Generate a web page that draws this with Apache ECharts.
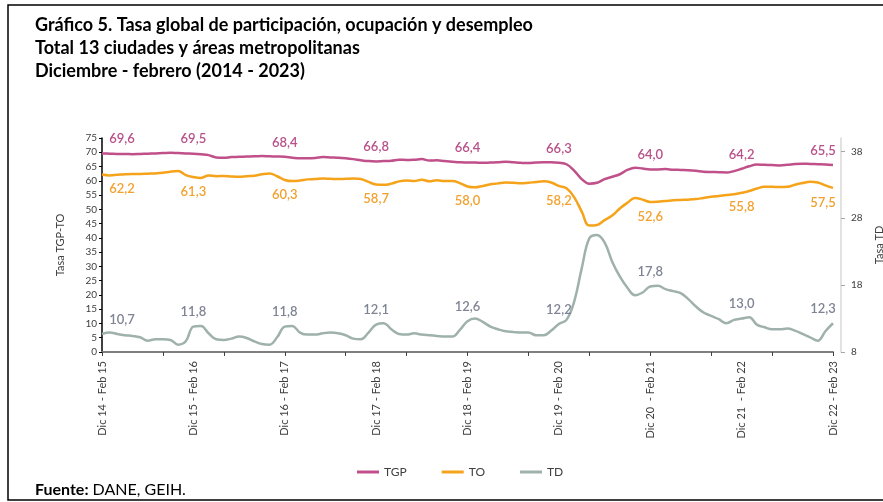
<!DOCTYPE html>
<html lang="es">
<head>
  <meta charset="utf-8">
  <title>Gráfico 5</title>
  <script src="https://cdn.jsdelivr.net/npm/echarts@6/dist/echarts.min.js"></script>
  <style>
    html, body { margin: 0; padding: 0; background: #fff; }
    #chart-box { width: 883px; height: 502px; }
  </style>
</head>
<body>
  <div id="chart-box"></div>
  <script type="text/javascript">
    // trimestres moviles dic14-feb15 ... dic22-feb23
    var meses = ['Ene', 'Feb', 'Mar', 'Abr', 'May', 'Jun', 'Jul', 'Ago', 'Sep', 'Oct', 'Nov', 'Dic'];
    var categorias = [];
    for (var k = 0; k < 97; k++) {
      var m0 = (11 + k) % 12, y0 = 14 + Math.floor((11 + k) / 12);
      var m2 = (13 + k) % 12, y2 = 14 + Math.floor((13 + k) / 12);
      var sep = (y0 === 20 || y0 === 21) && m0 === 11 ? '  - ' : ' - ';
      categorias.push(meses[m0] + ' ' + y0 + sep + meses[m2] + ' ' + y2);
    }

    var tgp = [
      69.6, 69.5, 69.4, 69.4, 69.3, 69.4, 69.5, 69.6, 69.7, 69.8, 69.7, 69.6, 69.5,
      69.3, 69.0, 68.2, 68.1, 68.3, 68.4, 68.5, 68.6, 68.7, 68.6, 68.5, 68.4,
      68.1, 67.9, 67.9, 68.0, 68.3, 68.2, 68.1, 67.9, 67.6, 67.2, 66.9, 66.8,
      66.9, 67.0, 67.4, 67.3, 67.4, 67.6, 67.1, 67.2, 66.9, 66.7, 66.5, 66.4,
      66.4, 66.3, 66.4, 66.5, 66.7, 66.5, 66.3, 66.2, 66.4, 66.5, 66.5, 66.3,
      65.8, 63.6, 60.6, 59.0, 59.3, 60.6, 61.4, 62.3, 63.8, 64.6, 64.3, 64.0,
      64.0, 64.1, 63.9, 63.8, 63.7, 63.5, 63.2, 63.1, 63.0, 62.9, 63.4, 64.2,
      65.1, 65.7, 65.6, 65.5, 65.4, 65.6, 65.9, 66.0, 65.9, 65.8, 65.7, 65.5
    ];
    var to = [
      62.2, 61.9, 62.1, 62.3, 62.4, 62.4, 62.5, 62.6, 62.8, 63.2, 63.4, 62.0, 61.3,
      61.0, 61.9, 61.6, 61.7, 61.5, 61.4, 61.6, 61.8, 62.3, 62.6, 61.6, 60.3,
      59.9, 60.1, 60.5, 60.6, 60.8, 60.7, 60.6, 60.7, 60.8, 60.6, 59.6, 58.7,
      58.6, 59.0, 59.8, 60.1, 59.9, 60.4, 59.8, 60.2, 59.9, 59.9, 59.2, 58.0,
      57.7, 58.2, 58.8, 59.1, 59.4, 59.3, 59.1, 59.3, 59.6, 59.8, 59.4, 58.2,
      57.4, 54.3, 49.2, 44.3, 44.5, 46.2, 47.8, 50.3, 52.3, 54.0, 53.4, 52.6,
      52.7, 52.9, 53.2, 53.3, 53.4, 53.6, 54.0, 54.4, 54.7, 55.0, 55.3, 55.8,
      56.4, 57.3, 57.9, 57.9, 57.8, 57.9, 58.6, 59.2, 59.7, 59.4, 58.4, 57.5
    ];
    var td = [
      10.7, 10.9, 10.7, 10.5, 10.4, 10.2, 9.7, 9.9, 9.9, 9.8, 9.1, 9.6, 11.8,
      11.9, 10.8, 9.9, 9.8, 10.0, 10.3, 10.1, 9.6, 9.2, 9.1, 10.2, 11.8,
      11.9, 10.9, 10.6, 10.6, 10.8, 10.9, 10.8, 10.5, 10.0, 9.9, 10.9, 12.1,
      12.3, 11.4, 10.7, 10.6, 10.8, 10.6, 10.5, 10.4, 10.3, 10.3, 11.3, 12.6,
      13.0, 12.5, 11.8, 11.4, 11.1, 11.0, 10.9, 10.9, 10.5, 10.5, 11.2, 12.2,
      12.8, 15.5, 20.5, 25.0, 25.5, 24.4, 21.5, 19.3, 17.6, 16.5, 16.9, 17.8,
      17.9, 17.4, 17.1, 16.8, 15.9, 14.8, 13.9, 13.4, 12.9, 12.3, 12.8, 13.0,
      13.2, 12.1, 11.7, 11.4, 11.4, 11.5, 11.2, 10.7, 10.2, 9.7, 11.1, 12.3
    ];
    var ticksTD = [8, 18, 28, 38];

    var fuente = 'Lato, "Noto Sans", sans-serif';

    // solo se rotula cada diciembre-febrero
    function rotular(lista) {
      return lista.map(function (v, i) {
        if (i % 12 !== 0) return v;
        var off = i === 0 ? [20, 0] : (i === lista.length - 1 ? [-10, 0] : [0, 0]);
        return { value: v, label: { show: true, offset: off } };
      });
    }
    function coma(p) {
      return p.value.toFixed(1).replace('.', ',');
    }

    function serie(nombre, lista, color, colorLabel, pos, eje) {
      return {
        name: nombre,
        type: 'line',
        yAxisIndex: eje,
        smooth: 0.4,
        symbol: 'circle',
        symbolSize: 0,
        showSymbol: true,
        showAllSymbol: true,
        lineStyle: { color: color, width: 2.5 },
        itemStyle: { color: color },
        label: {
          show: false,
          position: pos,
          distance: 8,
          color: colorLabel,
          fontFamily: fuente,
          fontSize: 13,
          fontWeight: 600,
          formatter: coma
        },
        data: rotular(lista)
      };
    }

    var chart = echarts.init(document.querySelector('#chart-box'));

    chart.setOption({
      animation: false,
      textStyle: { fontFamily: fuente },
      title: {
        text: 'Gráfico 5. Tasa global de participación, ocupación y desempleo\nTotal 13 ciudades y áreas metropolitanas\nDiciembre - febrero (2014 - 2023)',
        left: 30,
        top: 9,
        textStyle: { fontFamily: fuente, fontSize: 18, fontWeight: 'bold', color: '#000', lineHeight: 23 }
      },
      legend: {
        left: 352,
        top: 461,
        icon: 'rect',
        itemWidth: 22,
        itemHeight: 3,
        itemGap: 35,
        textStyle: { fontSize: 12, color: '#404040', fontFamily: fuente },
        data: ['TGP', 'TO', 'TD']
      },
      grid: { left: 102, right: 50, top: 138, bottom: 150, outerBoundsMode: 'none' },
      xAxis: {
        type: 'category',
        boundaryGap: false,
        data: categorias,
        axisLine: { lineStyle: { color: '#7f7f7f', width: 2 } },
        axisTick: { interval: 7, length: 4, lineStyle: { color: '#404040' } },
        axisLabel: { interval: 11, rotate: 90, fontSize: 11, color: '#404040', margin: 9 }
      },
      yAxis: [{
        type: 'value',
        min: 0,
        max: 75,
        interval: 5,
        name: 'Tasa TGP-TO',
        nameLocation: 'middle',
        nameRotate: 90,
        nameGap: 36,
        nameTextStyle: { fontSize: 11, color: '#404040' },
        splitLine: { show: false },
        axisLine: { show: true, lineStyle: { color: '#000', width: 1.5 } },
        axisTick: { show: true, length: 3, lineStyle: { color: '#000' } },
        axisLabel: { fontSize: 10, color: '#404040', margin: 5 }
      }, {
        type: 'value',
        min: 8,
        max: 40,
        position: 'right',
        offset: 8,
        name: 'Tasa TD',
        nameLocation: 'middle',
        nameRotate: 90,
        nameGap: 32,
        nameTextStyle: { fontSize: 11, color: '#404040' },
        splitLine: { show: false },
        axisLine: { show: true, lineStyle: { color: '#d9d9d9', width: 1.5 } },
        axisTick: { show: true, length: 4, customValues: ticksTD, lineStyle: { color: '#a6a6a6' } },
        axisLabel: { fontSize: 10, color: '#404040', margin: 10, customValues: ticksTD }
      }],
      series: [
        serie('TGP', tgp, '#C0508A', '#B8508A', 'top', 0),
        serie('TO', to, '#F5A31A', '#F2A12E', 'bottom', 0),
        serie('TD', td, '#9FB1AC', '#7F8494', 'top', 1)
      ],
      graphic: [{
        type: 'rect',
        shape: { x: 8, y: 5, width: 900, height: 495 },
        style: { fill: null, stroke: '#000', lineWidth: 1.5 },
        silent: true
      }, {
        type: 'text',
        left: 35,
        top: 482,
        style: {
          text: '{b|Fuente:} DANE, GEIH.',
          font: '16px ' + fuente,
          fill: '#000',
          rich: { b: { fontWeight: 'bold', fontSize: 16, fontFamily: fuente } }
        }
      }]
    });
  </script>
</body>
</html>
